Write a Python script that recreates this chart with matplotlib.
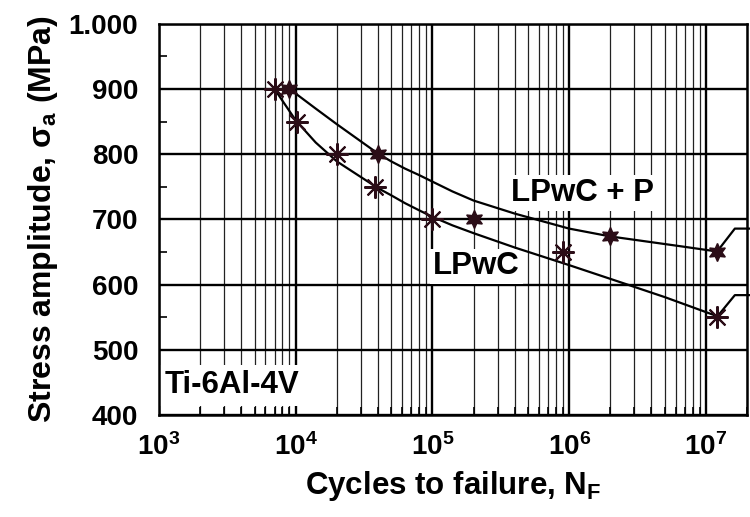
import numpy as np
import matplotlib.pyplot as plt
from matplotlib.ticker import LogLocator, MultipleLocator

plt.rcParams['font.family'] = ['Liberation Sans', 'DejaVu Sans']
plt.rcParams['font.weight'] = 'bold'
plt.rcParams['mathtext.fontset'] = 'custom'
plt.rcParams['mathtext.rm'] = 'Liberation Sans'
plt.rcParams['mathtext.bf'] = 'Liberation Sans:bold'
plt.rcParams['mathtext.it'] = 'Liberation Sans:bold'
plt.rcParams['mathtext.default'] = 'bf'

# measured points (cycles, stress amplitude in MPa)
lpwc_n = [7e3, 1.03e4, 2e4, 3.8e4, 1e5, 9e5, 1.2e7]
lpwc_s = [900, 850, 800, 750, 700, 650, 550]
lpwcp_n = [9e3, 4e4, 2e5, 2e6, 1.2e7]
lpwcp_s = [900, 800, 700, 675, 650]

# fitted curves
fit_lpwc_n = [7e3, 8e3, 1e4, 1.4e4, 2e4, 2.85e4, 4e4, 5e4, 6.3e4, 8e4, 1e5,
              1.4e5, 2e5, 4e5, 1e6, 2.6e6, 5e6, 1.2e7]
fit_lpwc_s = [900, 882, 852, 818, 789, 768, 748, 737, 725, 714, 704,
              691, 679, 657, 630, 601, 581, 552]
fit_lpwcp_n = [9e3, 1e4, 1.4e4, 2e4, 2.85e4, 4e4, 5e4, 6.3e4, 8e4, 1e5,
               1.4e5, 2e5, 4e5, 1e6, 2e6, 6.5e6, 1.2e7]
fit_lpwcp_s = [900, 893, 870, 846, 823, 801, 789, 778, 768, 758,
               743, 729, 709, 686, 674, 659, 651]

# run-out arrows
runout_n = [1.2e7, 1.63e7, 2.1e7]
runout_lpwc_s = [550, 584, 584]
runout_lpwcp_s = [650, 686, 686]

mark_col = '#2b0d17'

fig = plt.figure(figsize=(7.5, 5.17), dpi=100)
ax = fig.add_axes([0.212, 0.197, 0.784, 0.757])

ax.set_xscale('log')
ax.set_xlim(1e3, 2e7)
ax.set_ylim(400, 1000)

# grid
ax.xaxis.set_major_locator(LogLocator(base=10, numticks=10))
ax.xaxis.set_minor_locator(LogLocator(base=10, subs=np.arange(2, 10), numticks=20))
ax.yaxis.set_major_locator(MultipleLocator(100))
ax.yaxis.set_minor_locator(MultipleLocator(50))
ax.grid(which='major', axis='both', color='black', lw=1.7, zorder=0)
ax.grid(which='minor', axis='x', color='#222222', lw=0.9, zorder=0)
ax.set_axisbelow(True)

# curves
ax.plot(fit_lpwc_n, fit_lpwc_s, color='black', lw=1.6, zorder=3)
ax.plot(fit_lpwcp_n, fit_lpwcp_s, color='black', lw=1.6, zorder=3)
ax.plot(runout_n, runout_lpwc_s, color='black', lw=1.6, zorder=3, clip_on=False)
ax.plot(runout_n, runout_lpwcp_s, color='black', lw=1.6, zorder=3, clip_on=False)

# markers
ax.plot(lpwc_n, lpwc_s, ls='none', marker=(8, 2, 0), ms=16, mew=1.5,
        color=mark_col, zorder=4)
ax.plot(lpwcp_n, lpwcp_s, ls='none', marker=(6, 1, 0), ms=13,
        color=mark_col, zorder=4)

# labels inside the plot
box = dict(facecolor='white', edgecolor='none', pad=2)
ax.text(1.25e6, 741, 'LPwC + P', fontsize=22.5, fontweight='bold', ha='center',
        va='center', bbox=box, zorder=2)
ax.text(2.1e5, 628, 'LPwC', fontsize=22.5, fontweight='bold', ha='center',
        va='center', bbox=box, zorder=2)
ax.text(1.1e3, 446, 'Ti-6Al-4V', fontsize=22.5, fontweight='bold', ha='left',
        va='center', bbox=dict(facecolor='white', edgecolor='none', pad=4), zorder=2)

# ticks
ax.set_yticks([400, 500, 600, 700, 800, 900, 1000])
ax.set_yticklabels(['400', '500', '600', '700', '800', '900', '1.000'])
ax.set_xticks([1e3, 1e4, 1e5, 1e6, 1e7])
ax.set_xticklabels([r'$\mathbf{10^{3}}$', r'$\mathbf{10^{4}}$', r'$\mathbf{10^{5}}$',
                    r'$\mathbf{10^{6}}$', r'$\mathbf{10^{7}}$'])
ax.tick_params(which='both', direction='in', labelsize=20)
ax.tick_params(which='major', length=0)
ax.tick_params(which='minor', length=6, width=1.2)
ax.tick_params(axis='y', which='major', pad=15)
ax.tick_params(axis='x', which='major', pad=13)

for sp in ax.spines.values():
    sp.set_linewidth(1.8)

ax.set_xlabel(r'Cycles to failure, N$_\mathbf{F}$', fontsize=22.5, fontweight='bold',
              labelpad=6)
ax.set_ylabel(r'Stress amplitude, $\mathrm{\sigma}_\mathbf{a}$ (MPa)', fontsize=23,
              fontweight='bold', labelpad=6)

fig.savefig('out.png', dpi=100)
